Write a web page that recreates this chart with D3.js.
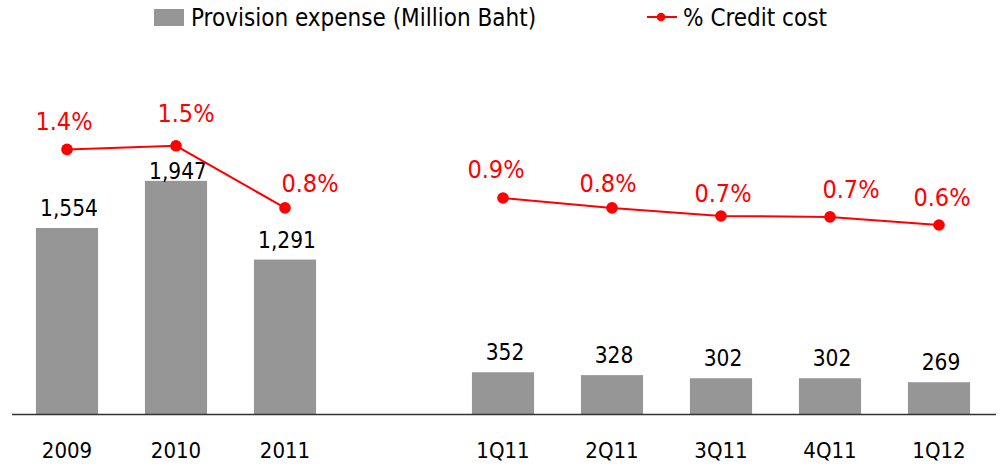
<!DOCTYPE html>
<html>
<head>
    <meta charset="utf-8">
    <style>
        body {
            margin: 0;
            background: white;
        }
        svg {
            display: block;
            font-family: 'DejaVu Sans Condensed', 'DejaVu Sans', sans-serif;
            font-stretch: condensed;
        }
    </style>
</head>
<body>
    <svg width="1000" height="466"></svg>

<script src="https://d3js.org/d3.v7.min.js"></script>
<script>
    // annual figures
    let years = ["2009", "2010", "2011"]
    let yearProvision = [1554, 1947, 1291]
    let yearCreditCost = [1.44, 1.48, 0.79]

    // quarterly figures
    let quarters = ["1Q11", "2Q11", "3Q11", "4Q11", "1Q12"]
    let quarterProvision = [352, 328, 302, 302, 269]
    let quarterCreditCost = [0.90, 0.79, 0.70, 0.69, 0.60]

    let legendLabels = ["Provision expense (Million Baht)", "% Credit cost"]

    let width = 1000
    let height = 466
    let baseY = 414.5

    let svg = d3.select("svg")

    let rows = years.map((c, i) => ({cat: c, prov: yearProvision[i], pct: yearCreditCost[i], group: "y"}))
        .concat(quarters.map((c, i) => ({cat: c, prov: quarterProvision[i], pct: quarterCreditCost[i], group: "q"})))

    // empty slot between the years and the quarters
    let x = d3.scaleBand()
        .domain(years.concat(["gap"], quarters))
        .range([12.5, 993.5])
        .paddingInner(0.43)
        .paddingOuter(0.215)

    let yBar = d3.scaleLinear()
        .domain([0, 3454])
        .range([baseY, 0])

    let yPct = d3.scaleLinear()
        .domain([0, 3.1])
        .range([279, 0])

    let cx = d => x(d.cat) + x.bandwidth() / 2

    // bars
    svg.append("g")
        .selectAll("rect")
        .data(rows)
        .join("rect")
        .attr("x", d => x(d.cat))
        .attr("y", d => yBar(d.prov))
        .attr("width", x.bandwidth())
        .attr("height", d => baseY - yBar(d.prov))
        .style("fill", "#969696")

    // baseline
    svg.append("line")
        .attr("x1", 12)
        .attr("x2", 996)
        .attr("y1", baseY)
        .attr("y2", baseY)
        .style("stroke", "#333")
        .style("stroke-width", 1.3)

    // category labels
    svg.append("g")
        .selectAll("text")
        .data(rows)
        .join("text")
        .attr("x", d => cx(d))
        .attr("y", 458)
        .attr("text-anchor", "middle")
        .style("font-size", "22px")
        .style("fill", "#000")
        .text(d => d.cat)

    // bar value labels, pushed down onto the bar when too close to the line
    svg.append("g")
        .selectAll("text")
        .data(rows)
        .join("text")
        .attr("x", d => cx(d) + 2)
        .attr("y", d => {
            let top = yBar(d.prov)
            return (top - 12) - yPct(d.pct) < 30 ? top - 2 : top - 12
        })
        .attr("text-anchor", "middle")
        .style("font-size", "22.5px")
        .style("fill", "#000")
        .text(d => d3.format(",")(d.prov))

    // credit cost line, one piece per group
    let line = d3.line()
        .x(d => cx(d))
        .y(d => yPct(d.pct))

    let groups = [rows.filter(d => d.group == "y"), rows.filter(d => d.group == "q")]

    svg.append("g")
        .selectAll("path")
        .data(groups)
        .join("path")
        .attr("d", line)
        .style("fill", "none")
        .style("stroke", "#ff0000")
        .style("stroke-width", 2)

    svg.append("g")
        .selectAll("circle")
        .data(rows)
        .join("circle")
        .attr("cx", d => cx(d))
        .attr("cy", d => yPct(d.pct))
        .attr("r", 5.8)
        .style("fill", "#ff0000")

    // hand placed label offsets, like the original slide
    let nudge = [[-3, -19], [10, -24], [25, -16], [-7, -20], [-4, -16], [2, -14], [21, -19], [3, -19]]

    svg.append("g")
        .selectAll("text")
        .data(rows)
        .join("text")
        .attr("x", (d, i) => cx(d) + nudge[i][0])
        .attr("y", (d, i) => yPct(d.pct) + nudge[i][1])
        .attr("text-anchor", "middle")
        .style("font-size", "25px")
        .style("fill", "#ff0000")
        .text(d => d.pct.toFixed(1) + "%")

    // legend
    let legend = svg.append("g")

    legend.append("rect")
        .attr("x", 154)
        .attr("y", 9)
        .attr("width", 30)
        .attr("height", 17)
        .style("fill", "#969696")

    legend.append("text")
        .attr("x", 191)
        .attr("y", 26)
        .style("font-size", "24px")
        .style("fill", "#000")
        .text(legendLabels[0])

    legend.append("line")
        .attr("x1", 647)
        .attr("x2", 677)
        .attr("y1", 17)
        .attr("y2", 17)
        .style("stroke", "#ff0000")
        .style("stroke-width", 2)

    legend.append("circle")
        .attr("cx", 661)
        .attr("cy", 17)
        .attr("r", 4.3)
        .style("fill", "#ff0000")

    legend.append("text")
        .attr("x", 683)
        .attr("y", 26)
        .style("font-size", "24px")
        .style("fill", "#000")
        .text(legendLabels[1])
</script>
</body>
</html>
